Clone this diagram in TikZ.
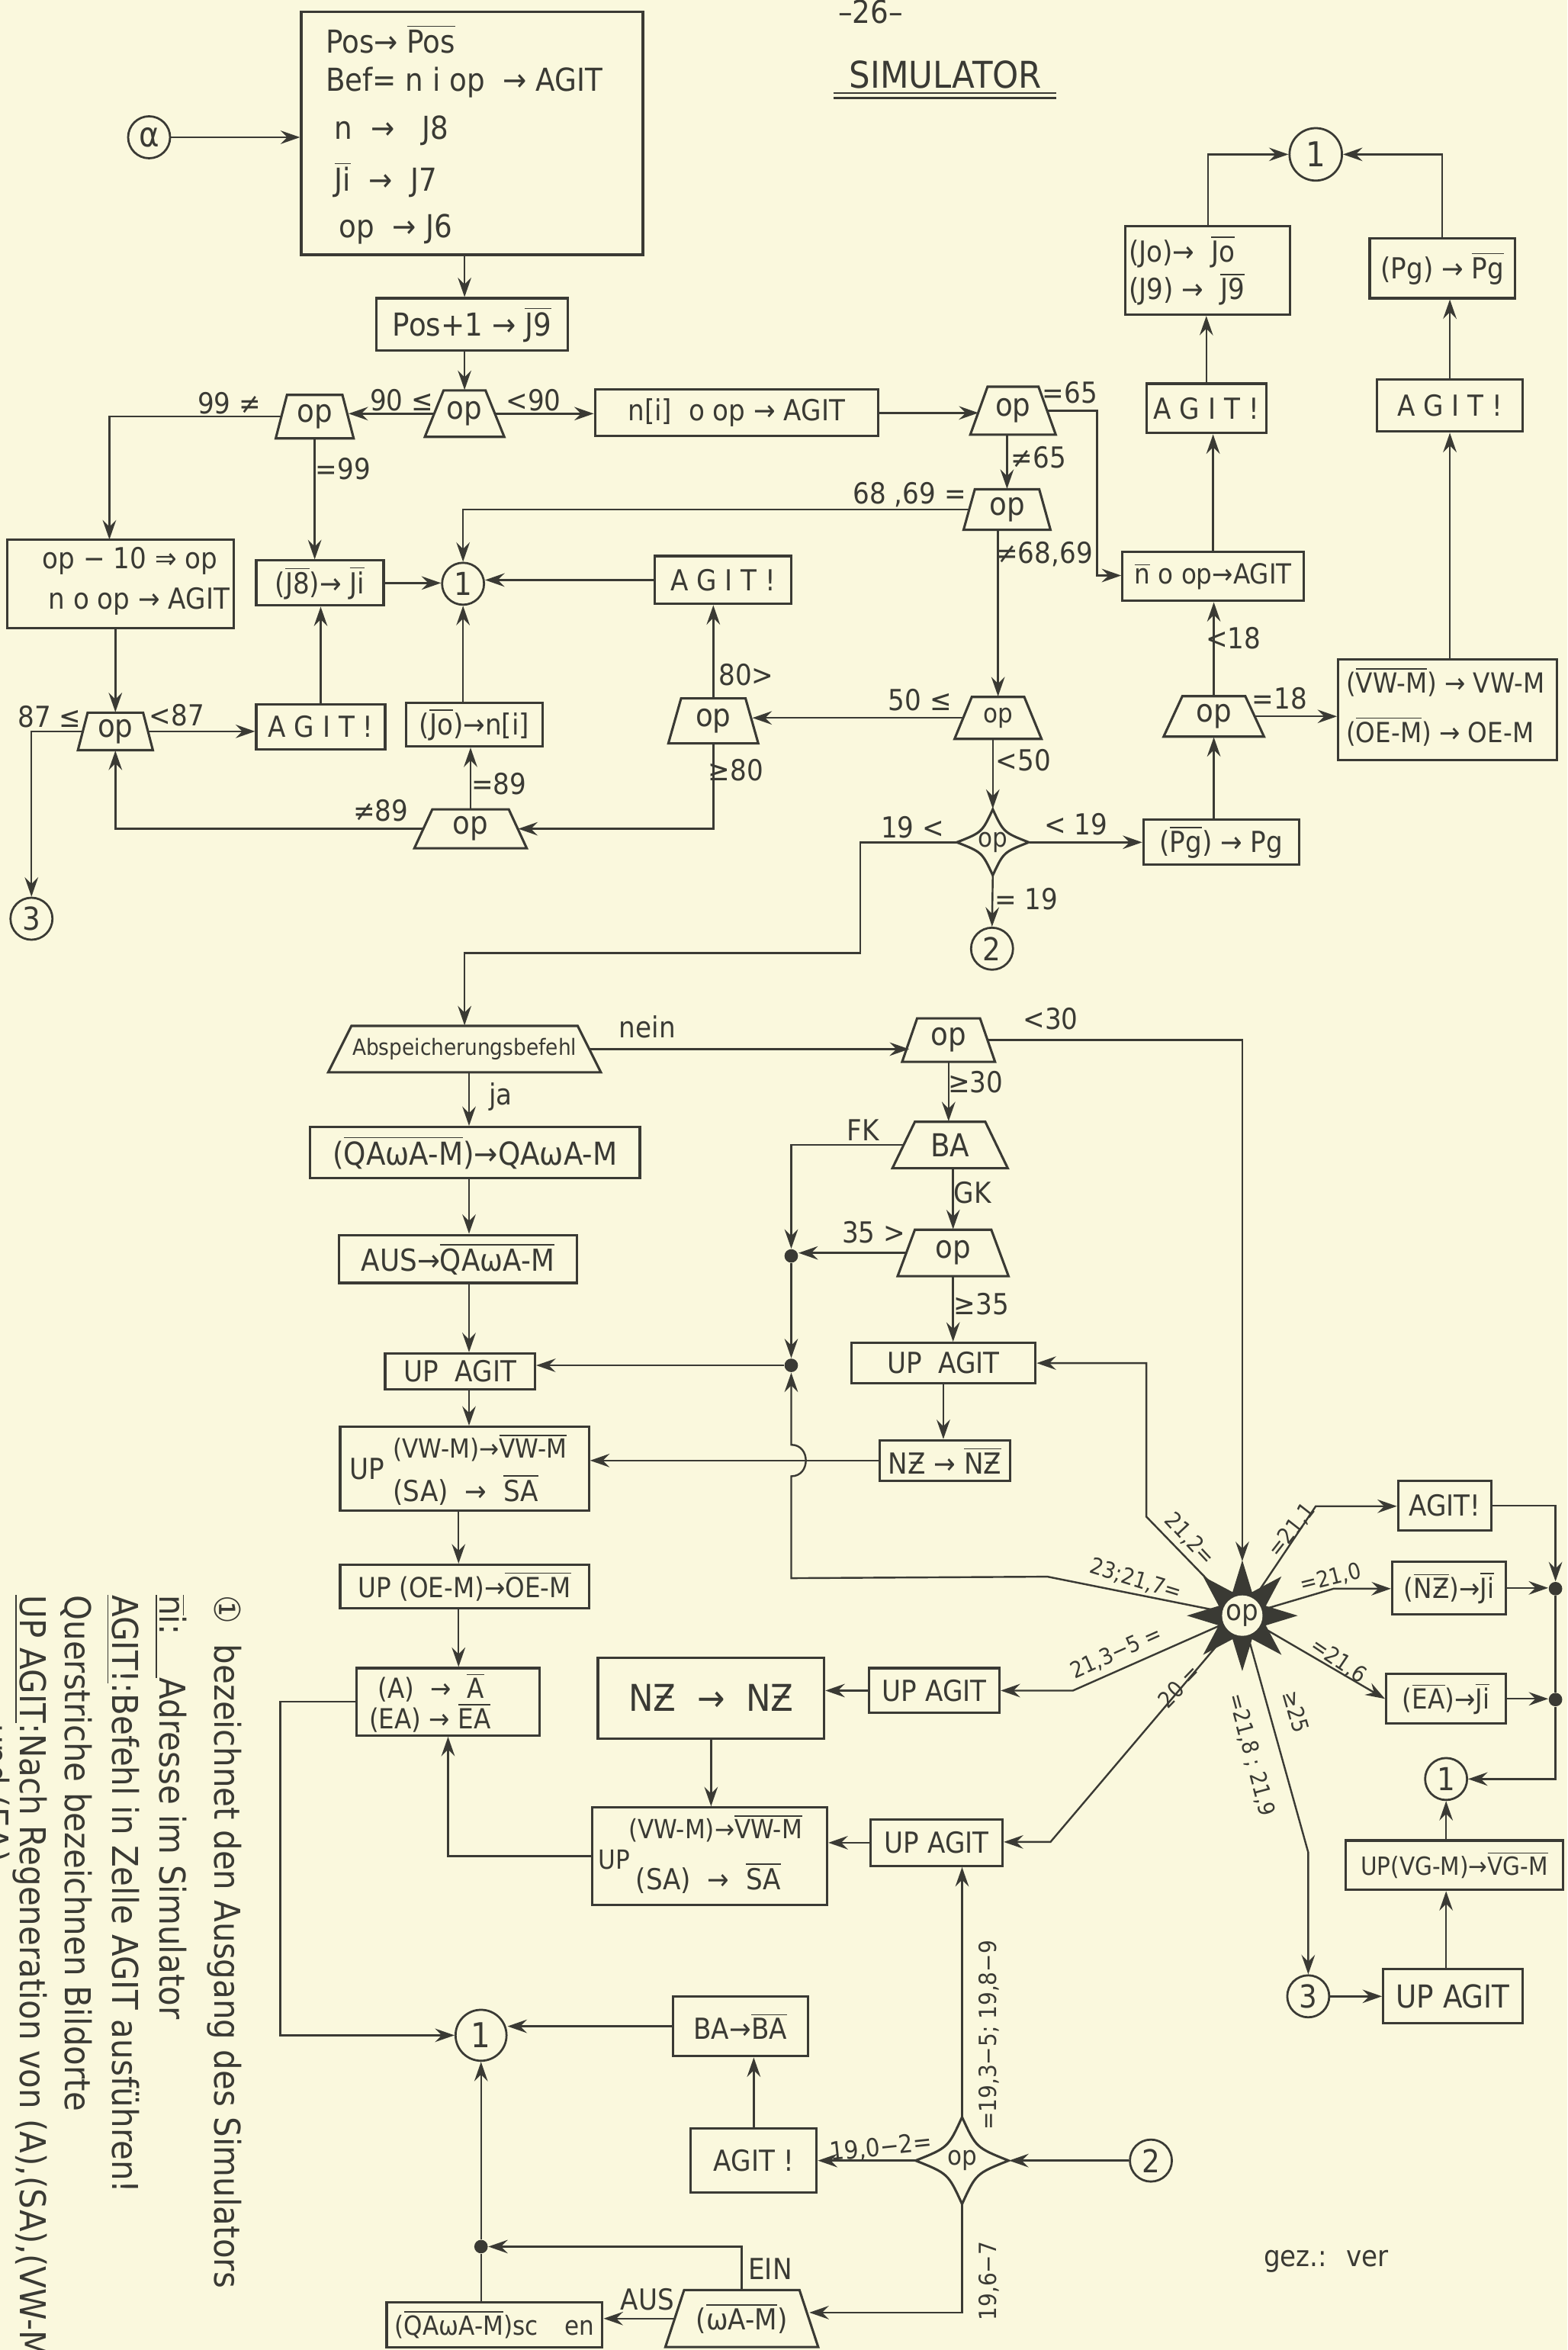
\documentclass[tikz,border=0pt]{standalone}
\usepackage{fontspec}
\setmainfont[FakeStretch=0.9]{DejaVu Sans}
\usetikzlibrary{arrows.meta}
\definecolor{bg}{RGB}{250,248,221}
\definecolor{ink}{RGB}{58,58,52}
\newcommand\ob[1]{$\overline{\hbox{#1}}$}
\newcommand\fsz[1]{\fontsize{#1}{#1}\selectfont}
\tikzset{
 ln/.style={draw=ink, line width=0.7pt},
 conn/.style={ln, -{Stealth[length=2.6mm,width=1.8mm,inset=0.9mm]}},
 bx/.style={draw=ink, line width=0.9pt, rectangle, inner sep=0pt, text=ink, font=\fsz{11}},
 cc/.style={draw=ink, line width=0.8pt, circle, inner sep=0pt, minimum size=5.6mm, text=ink, font=\fsz{12}},
 lb/.style={inner sep=0pt, text=ink, font=\fsz{11}},
 sl/.style={inner sep=0pt, text=ink, font=\fsz{8.5}},
 lg/.style={inner sep=0pt, text=ink, font=\fsz{13.5}},
 dt/.style={circle, fill=ink, inner sep=0pt, minimum size=1.8mm},
 hid/.style={rectangle, inner sep=0pt},
}
% box by corners: [opts]{name}{x1}{y1}{x2}{y2}{text}
\newcommand\BX[7][]{\node[bx,minimum width={(#5-#3)*0.2mm},minimum height={(#6-#4)*0.2mm},#1] (#2) at ({(#3+#5)/2},{(#4+#6)/2}) {#7};}
% trapezoid: [opts]{name}{cx}{cy}{topw}{botw}{h}{text}
\newcommand\TR[8][]{%
 \draw[draw=ink,line width=0.9pt] ({#3-#5/2},{#4-#7/2}) -- ({#3+#5/2},{#4-#7/2}) -- ({#3+#6/2},{#4+#7/2}) -- ({#3-#6/2},{#4+#7/2}) -- cycle;
 \node[hid,minimum width={(#5+#6)*0.1mm},minimum height={#7*0.2mm},text=ink,font=\fsz{12},#1] (#2) at (#3,#4) {#8};}
% concave diamond: {name}{cx}{cy}{hw}{hh}{text}
\newcommand\DM[6]{%
 \draw[draw=ink,line width=0.9pt] (#2,{#3-#5}) .. controls ({#2+0.3*#4},{#3-0.3*#5}) .. ({#2+#4},#3) .. controls ({#2+0.3*#4},{#3+0.3*#5}) .. (#2,{#3+#5}) .. controls ({#2-0.3*#4},{#3+0.3*#5}) .. ({#2-#4},#3) .. controls ({#2-0.3*#4},{#3-0.3*#5}) .. (#2,{#3-#5}) -- cycle;
 \node[hid,minimum width={#4*0.4mm},minimum height={#5*0.4mm},text=ink,font=\fsz{10}] (#1) at (#2,#3) {#6};}
\begin{document}
\begin{tikzpicture}[x=0.2mm,y=-0.2mm]
\fill[bg] (0,0) rectangle (1046,1568);
\useasboundingbox (0,0) rectangle (1046,1568);
\clip (0,0) rectangle (1046,1568);

% ---------- title ----------
\node[lb,font=\fsz{12}] (pgnum) at (581,8) {–26–};
\node[lb,font=\fsz{14}] (title) at (631,50) {SIMULATOR};
\draw[ln] (556,62) -- (705,62);
\draw[ln] (556,65.5) -- (705,65.5);

% ---------- top block ----------
\BX{topbox}{201}{8}{429}{170}{}
\node[lb,anchor=west,font=\fsz{12}] (t1) at (217,26) {Pos→\ \ob{Pos}};
\node[lb,anchor=west,font=\fsz{12}] (t2) at (217,55) {Bef= n i op \ → AGIT};
\node[lb,anchor=west,font=\fsz{12}] (t3) at (223,87) {n \ → \ \ J8};
\node[lb,anchor=west,font=\fsz{12}] (t4) at (223,120) {\ob{Ji} \ → \ J7};
\node[lb,anchor=west,font=\fsz{12}] (t5) at (226,153) {op \ → J6};
\node[cc,font=\fsz{13}] (alpha) at (99.5,91.6) {α};
\draw[conn] (alpha.east) -- (alpha.east -| topbox.west);

\BX[font=\fsz{12}]{pos1}{251}{199}{379}{234}{Pos+1 → \ob{J9}}
\TR{op1}{310}{276}{28}{53}{31}{op}
\draw[conn] (topbox.south -| op1.north) -- (pos1.north -| op1.north);
\draw[conn] (pos1.south -| op1.north) -- (op1.north);
\TR{op2}{210}{278}{37}{52}{29}{op}
\draw[conn] (op1.west) -- (op1.west -| op2.east);
\node[lb] (l90a) at (268,267) {90 ≤};
\node[lb] (l90b) at (356,267) {<90};
\node[lb] (l99a) at (153,269) {99 ≠};

\BX{nbox}{397}{260}{586}{291}{n[i] \ o op → AGIT}
\draw[conn] (op1.east) -- (op1.east -| nbox.west);
\TR{op3}{676}{274}{34}{57}{32}{op}
\draw[conn] (nbox.east) -- (nbox.east -| op3.west);
\node[lb] (l65a) at (714,262) {=65};
\BX[font=\fsz{10.5}]{nbar}{749}{368}{870}{401}{\ob{n} o op→AGIT}
\coordinate (c65) at (732,384);
\draw[conn] (op3.east) -| (c65) -- (c65 -| nbar.west);
\TR{op4}{672}{340}{43}{58}{27}{op}
\draw[conn] (op4.north |- op3.south) -- (op4.north);
\node[lb] (l65b) at (693,305) {≠65};
\node[lb] (l6869a) at (607,330) {68 ,69 =};
\node[lb] (l6869b) at (697,370) {≠68,69};

% ---------- left upper ----------
\node[cc] (c1a) at (309,389.5) {1};
\draw[conn] (op4.west) -| (c1a.north);
\BX{j8}{171}{374}{256}{404}{(\ob{J8})→ \ob{Ji}}
\draw[conn] (j8.east) -- (j8.east -| c1a.west);
\draw[conn] (op2.south) -- (op2.south |- j8.north);
\node[lb] (l99b) at (229,313) {=99};
\BX{agit1}{437}{371}{528}{403}{A G I T !}
\draw[conn] (agit1.west) -- (agit1.west -| c1a.east);
\BX{opbox}{5}{360}{156}{419}{}
\node[lb,anchor=west] (o1) at (28,374) {op − 10 ⇒ op};
\node[lb,anchor=west] (o2) at (32,401) {n o op → AGIT};
\coordinate (kop) at (73,360);
\draw[conn] (op2.west) -| (kop);
\TR{op5}{77}{488}{37}{50}{25}{op}
\draw[conn] (op5.north |- opbox.south) -- (op5.north);
\node[lb] (l87a) at (33,478) {87 ≤};
\node[lb] (l87b) at (118,477) {<87};
\BX{agit2}{171}{470}{257}{500}{A G I T !}
\draw[conn] (op5.east) -- (op5.east -| agit2.west);
\draw[conn] (agit2.north) -- (agit2.north |- j8.south);
\node[cc] (c3a) at (21,613) {3};
\draw[conn] (op5.west) -| (c3a.north);
\BX{jo}{271}{469}{362}{498}{(\ob{Jo})→n[i]}
\draw[conn] (c1a.south |- jo.north) -- (c1a.south);
\TR{op6}{314}{553}{51}{75}{26}{op}
\draw[conn] (op6.north) -- (op6.north |- jo.south);
\draw[conn] (op6.west) -| (op5.south);
\node[lb] (l89a) at (333,523) {=89};
\node[lb] (l89b) at (254,541) {≠89};
\TR{op7}{476}{481}{43}{60}{30}{op}
\draw[conn] (op7.north) -- (op7.north |- agit1.south);
\draw[conn] (op7.south) |- (op6.east);
\node[lb] (l80a) at (498,450) {80>};
\node[lb] (l80b) at (491,514) {≥80};
\TR[font=\fsz{10}]{op8}{666}{479}{35}{58}{28}{op}
\draw[conn] (op8.west) -- (op8.west -| op7.east);
\draw[conn] (op8.north |- op4.south) -- (op8.north);
\node[lb] (l50a) at (614,467) {50 ≤};
\node[lb] (l50b) at (683,507) {<50};
\DM{d1}{662.5}{562}{24}{22}{op}
\draw[conn] (d1.north |- op8.south) -- (d1.north);
\node[lb] (l19a) at (609,552) {19 <};
\node[lb] (l19b) at (718,550) {< 19};
\node[lb] (l19c) at (685,600) {= 19};
\BX{pgb}{763}{547}{867}{577}{(\ob{Pg}) → Pg}
\draw[conn] (d1.east) -- (d1.east -| pgb.west);
\node[cc] (c2a) at (662,633) {2};
\draw[conn] (d1.south) -- (c2a.north);

% ---------- right upper ----------
\TR{op9}{810}{478}{42}{67}{27}{op}
\draw[conn] (op9.south |- pgb.north) -- (op9.south);
\draw[conn] (op9.north) -- (op9.north |- nbar.south);
\node[lb] (l18a) at (823,426) {<18};
\node[lb] (l18b) at (854,466) {=18};
\BX{vw}{893}{440}{1039}{507}{}
\node[lb,anchor=west,font=\fsz{10.5}] (vw1) at (898,455) {(\ob{VW-M}) → VW-M};
\node[lb,anchor=west,font=\fsz{10.5}] (vw2) at (898,488) {(\ob{OE-M}) → OE-M};
\draw[conn] (op9.east) -- (op9.east -| vw.west);
\BX{agit3}{919}{253}{1016}{288}{A G I T !}
\draw[conn] (agit3.south |- vw.north) -- (agit3.south);
\BX{pgt}{914}{159}{1011}{199}{(Pg) → \ob{Pg}}
\draw[conn] (agit3.north) -- (agit3.north |- pgt.south);
\node[cc,minimum size=7mm,font=\fsz{13}] (c1b) at (878,103) {1};
\draw[conn] (pgt.north) |- (c1b.east);
\BX{agit4}{765}{256}{845}{289}{A G I T !}
\draw[conn] (nbar.north) -- (nbar.north |- agit4.south);
\BX{jj}{751}{151}{861}{210}{}
\node[lb,anchor=west] (jj1) at (753,168) {(Jo)→ \ \ob{Jo}};
\node[lb,anchor=west] (jj2) at (753,193) {(J9) → \ \ob{J9}};
\draw[conn] (agit4.north) -- (agit4.north |- jj.south);
\draw[conn] (jj.north) |- (c1b.west);

% ---------- middle ----------
\TR[font=\fsz{8.5}]{abs}{310}{700}{151}{182}{31}{Abspeicherungsbefehl}
\coordinate (b1) at (574,636);
\draw[conn] (d1.west) -| (b1) -| (abs.north);
\node[lb] (lnein) at (432,685) {nein};
\TR{op10}{633}{694}{42}{62}{29}{op}
\draw[conn] (abs.east) -- (abs.east -| op10.west);
\node[lb] (l30a) at (701,680) {<30};
\node[hid,circle,minimum size=14.4mm] (star) at (829,1078) {};
\draw[conn] (op10.east) -| (star.north);
\TR{ba}{634}{764}{47}{77}{31}{BA}
\draw[conn] (op10.south) -- (op10.south |- ba.north);
\node[lb] (l30b) at (651,722) {≥30};
\node[lb] (lfk) at (576,754) {FK};
\node[lb] (lgk) at (649,796) {GK};
\node[dt] (dot1) at (528,838) {};
\draw[conn] (ba.west) -| (dot1.north);
\TR{op11}{636}{836}{51}{74}{31}{op}
\draw[conn] (op11.north |- ba.south) -- (op11.north);
\draw[conn] (op11.west) -- (op11.west -| dot1.east);
\node[lb] (l35a) at (583,822) {35 >};
\node[lb] (l35b) at (655,870) {≥35};
\BX{upr}{568}{896}{691}{923}{UP \ AGIT}
\draw[conn] (op11.south) -- (op11.south |- upr.north);
\node[dt] (dot2) at (528,911) {};
\draw[conn] (dot1.south) -- (dot2.north);
\BX{upl}{257}{903}{357}{927}{UP \ AGIT}
\draw[conn] (dot2.west) -- (dot2.west -| upl.east);
\BX{nzr}{587}{961}{674}{988}{NƵ → \ob{NƵ}}
\draw[conn] (upr.south) -- (upr.south |- nzr.north);
\BX{upv1}{227}{952}{393}{1008}{}
\node[lb,anchor=west] (u1a) at (233,980) {UP};
\node[lb,anchor=west,font=\fsz{10}] (u1b) at (262,966) {(VW-M)→\ob{VW-M}};
\node[lb,anchor=west] (u1c) at (262,994) {(SA) \ → \ \ob{SA}};
\draw[conn] (nzr.west) -- (nzr.west -| upv1.east);

% ---------- star branches ----------
\coordinate (k217a) at (699,1052);
\coordinate (k217b) at (528,1053);
\coordinate (jA) at (528,985);
\coordinate (jB) at (528,964);
\draw[conn] (star.center) -- (k217a) -- (k217b) -- (jA) .. controls (541,985) and (541,964) .. (jB) -- (dot2.south);
\coordinate (k212) at (765,1012);
\draw[conn] (star.center) -- (k212) |- (upr.east);
\BX{agit5}{933}{988}{995}{1021}{AGIT!}
\coordinate (k211) at (878,1005);
\draw[conn] (star.center) -- (k211) -- (k211 -| agit5.west);
\BX[font=\fsz{10.5}]{nzj}{929}{1042}{1005}{1077}{(\ob{NƵ})→\ob{Ji}}
\coordinate (k210) at (890,1060);
\draw[conn] (star.center) -- (k210) -- (k210 -| nzj.west);
\BX[font=\fsz{10.5}]{eaj}{925}{1117}{1005}{1150}{(\ob{EA})→\ob{Ji}}
\draw[conn] (star.center) -- (eaj.west);
\BX{upa}{580}{1113}{667}{1143}{UP AGIT}
\coordinate (k2135) at (716,1128);
\draw[conn] (star.center) -- (k2135) -- (k2135 -| upa.east);
\BX{upb}{581}{1214}{669}{1245}{UP AGIT}
\coordinate (k20) at (701,1229);
\draw[conn] (star.center) -- (k20) -- (k20 -| upb.east);
\node[cc] (c3b) at (873,1332) {3};
\coordinate (k25) at (873,1236);
\draw[conn] (star.center) -- (k25) -- (c3b.north);
% star shape
\fill[ink] (star.center) +(0:37) -- +(22.5:17) -- +(45:37) -- +(67.5:17) -- +(90:37) -- +(112.5:17) -- +(135:37) -- +(157.5:17) -- +(180:37) -- +(202.5:17) -- +(225:37) -- +(247.5:17) -- +(270:37) -- +(292.5:17) -- +(315:37) -- +(337.5:17) -- cycle;
\node[circle,fill=bg,inner sep=0pt,minimum size=5.4mm,text=ink,font=\fsz{11}] (staro) at (star.center) {op};
\node[sl,rotate=-47] (s212) at (794,1027) {21,2=};
\node[sl,rotate=52] (s211) at (862,1021) {=21,1};
\node[sl,rotate=14] (s210) at (888,1053) {=21,0};
\node[sl,rotate=-34] (s216) at (893,1108) {=21,6};
\node[sl,rotate=-17] (s217) at (758,1054) {23;21,7=};
\node[sl,rotate=24] (s2135) at (745,1103) {21,3−5 =};
\node[sl,rotate=46] (s20) at (787,1125) {20 =};
\node[sl,rotate=-74] (s25) at (865,1142) {≥25};
\node[sl,rotate=-75] (s218) at (835,1171) {=21,8 ; 21,9};

% ---------- right lower ----------
\node[dt] (dota) at (1038,1060) {};
\node[dt] (dotb) at (1038,1134) {};
\draw[conn] (agit5.east) -| (dota.north);
\draw[conn] (nzj.east) -- (nzj.east -| dota.west);
\draw[ln] (dota.south) -- (dotb.north);
\draw[conn] (eaj.east) -- (eaj.east -| dotb.west);
\node[cc] (c1c) at (965,1187) {1};
\draw[conn] (dotb.south) |- (c1c.east);
\BX[font=\fsz{12}]{upc}{923}{1314}{1016}{1350}{UP AGIT}
\draw[conn] (c3b.east) -- (c3b.east -| upc.west);
\BX[font=\fsz{9.5}]{vg}{898}{1228}{1043}{1261}{UP(VG-M)→\ob{VG-M}}
\draw[conn] (c1c.south |- upc.north) -- (c1c.south |- vg.south);
\draw[conn] (c1c.south |- vg.north) -- (c1c.south);
\node[lb] (gez) at (885,1509) {gez.: \ ver};

% ---------- left lower ----------
\coordinate (colL) at (313,0);
\coordinate (colM) at (306,0);
\BX[font=\fsz{12}]{qa1}{207}{752}{427}{786}{(\ob{QAωA-M})→QAωA-M}
\draw[conn] (abs.south -| colL) -- (qa1.north -| colL);
\node[lb] (lja) at (334,732) {ja};
\BX[font=\fsz{11.5}]{aus}{226}{824}{385}{856}{AUS→\ob{QAωA-M}}
\draw[conn] (qa1.south -| colL) -- (aus.north -| colL);
\draw[conn] (aus.south -| colL) -- (upl.north -| colL);
\draw[conn] (upl.south -| colL) -- (upv1.north -| colL);
\BX[font=\fsz{10.5}]{oe}{227}{1044}{393}{1073}{UP (OE-M)→\ob{OE-M}}
\draw[conn] (upv1.south -| colM) -- (oe.north -| colM);
\BX{ae}{238}{1113}{360}{1158}{}
\node[lb,anchor=west,font=\fsz{10.5}] (ae1) at (252,1126) {(A) \ → \ \ob{A}};
\node[lb,anchor=west,font=\fsz{10.5}] (ae2) at (246,1146) {(EA) → \ob{EA}};
\draw[conn] (oe.south -| colM) -- (ae.north -| colM);
\node[cc,minimum size=6.8mm,font=\fsz{13}] (c1d) at (321,1358) {1};
\coordinate (kae) at (187,1358);
\draw[conn] (ae.west) -| (kae) -- (c1d.west);
\BX[font=\fsz{14}]{nzb}{399}{1106}{550}{1160}{NƵ \ → \ NƵ}
\draw[conn] (upa.west) -- (upa.west -| nzb.east);
\BX{upv2}{395}{1206}{552}{1271}{}
\node[lb,anchor=west,font=\fsz{10}] (u2a) at (399,1241) {UP};
\node[lb,anchor=west,font=\fsz{10}] (u2b) at (419,1220) {(VW-M)→\ob{VW-M}};
\node[lb,anchor=west] (u2c) at (424,1253) {(SA) \ → \ \ob{SA}};
\draw[conn] (nzb.south) -- (nzb.south |- upv2.north);
\draw[conn] (upb.west) -- (upb.west -| upv2.east);
\draw[conn] (upv2.west) -| (ae.south);
\BX{baba}{449}{1332}{539}{1372}{BA→\ob{BA}}
\draw[conn] (baba.west) -- (baba.west -| c1d.east);
\BX{agit6}{461}{1420}{545}{1463}{AGIT !}
\draw[conn] (agit6.north) -- (agit6.north |- baba.south);
\DM{d2}{642}{1441.6}{31}{29}{op}
\draw[conn] (d2.west) -- (d2.west -| agit6.east);
\draw[conn] (d2.north) -- (d2.north |- upb.south);
\node[sl,font=\fsz{9.5},rotate=6] (l190) at (588,1433) {19,0−2=};
\node[sl,font=\fsz{9},rotate=90] (l193) at (660,1358) {=19,3−5; 19,8−9};
\node[cc] (c2b) at (768,1441.6) {2};
\draw[conn] (c2b.west) -- (d2.east);
\TR[font=\fsz{11}]{wam}{495}{1547}{77}{102}{38}{(\ob{ωA-M})}
\coordinate (kd2) at (642,1543);
\draw[conn] (d2.south) -- (kd2) -- (kd2 -| wam.east);
\node[sl,font=\fsz{9},rotate=90] (l196) at (660,1522) {19,6−7};
\node[lb] (lein) at (514,1514) {EIN};
\node[dt] (dot3) at (321,1499) {};
\draw[conn] (wam.north) |- (dot3.east);
\BX[font=\fsz{10}]{qas}{258}{1536}{402}{1566}{(\ob{QAωA-M})sc\hspace{1em}en}
\node[lb] (laus) at (432,1534) {AUS};
\draw[conn] (wam.west) -- (wam.west -| qas.east);
\draw[ln] (dot3 |- qas.north) -- (dot3.south);
\draw[conn] (dot3.north) -- (c1d.south);

% ---------- legend ----------
\node[lg,anchor=west,rotate=-90] (g1) at (150,1064) {①\ \ bezeichnet den Ausgang des Simulators};
\node[lg,anchor=west,rotate=-90] (g2) at (114,1064) {\underline{\ob{n}i:\hspace{1.2em}}Adresse im Simulator};
\node[lg,anchor=west,rotate=-90] (g3) at (82,1064) {\underline{AGIT!}:Befehl in Zelle AGIT ausführen!};
\node[lg,anchor=west,rotate=-90] (g4) at (51,1064) {Querstriche bezeichnen Bildorte};
\node[lg,anchor=west,rotate=-90] (g5) at (20,1064) {\underline{UP AGIT}:Nach Regeneration von (A),(SA),(VW-M};
\node[lg,anchor=west,rotate=-90] (g6) at (-4,1150) {und (EA)};
\end{tikzpicture}
\end{document}
